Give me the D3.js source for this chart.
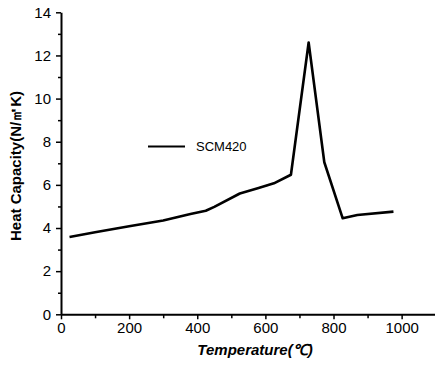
<!DOCTYPE html>
<html>
<head>
<meta charset="utf-8">
<script src="https://cdn.jsdelivr.net/npm/d3@7"></script>
<style>
  body { margin: 0; background: #fff; }
  svg text { font-family: "Liberation Sans", Arial, sans-serif; }
</style>
</head>
<body>
<script>
const w = 435;
const h = 368;

// data
const temps = [25, 100, 200, 300, 380, 425, 450, 525, 580, 625, 675, 727, 773, 827, 870, 976];
const capacity = [3.58, 3.8, 4.08, 4.35, 4.65, 4.8, 4.98, 5.6, 5.85, 6.07, 6.47, 12.6, 7.05, 4.45, 4.6, 4.76];
const xTicks = [0, 200, 400, 600, 800, 1000];
const yTicks = [0, 2, 4, 6, 8, 10, 12, 14];
const seriesName = "SCM420";

const data = temps.map((t, i) => ({ t: t, c: capacity[i] }));

const svg = d3.select("body")
  .append("svg")
  .attr("width", w)
  .attr("height", h);

const xScale = d3.scaleLinear()
  .domain([0, 1100])
  .range([61, 435.7]);

const yScale = d3.scaleLinear()
  .domain([0, 14])
  .range([314.3, 12.3]);

// minor ticks first
const xMinor = d3.axisBottom(xScale)
  .tickValues(d3.range(100, 1100, 200))
  .tickSize(4)
  .tickFormat("");
svg.append("g")
  .attr("transform", `translate(0, ${yScale(0)})`)
  .call(xMinor)
  .call(g => g.select(".domain").remove())
  .selectAll("line").attr("stroke-width", 1.5);

const yMinor = d3.axisLeft(yScale)
  .tickValues(d3.range(1, 14, 2))
  .tickSize(3)
  .tickFormat("");
svg.append("g")
  .attr("transform", `translate(${xScale(0)}, 0)`)
  .call(yMinor)
  .call(g => g.select(".domain").remove())
  .selectAll("line").attr("stroke-width", 1.5);

const xAxis = d3.axisBottom(xScale)
  .tickValues(xTicks)
  .tickFormat(d3.format("d"))
  .tickSize(5)
  .tickSizeOuter(0)
  .tickPadding(3);
const xAxisGroup = svg.append("g")
  .attr("transform", `translate(0, ${yScale(0)})`)
  .call(xAxis);
xAxisGroup.select(".domain").attr("stroke-width", 2);
xAxisGroup.selectAll(".tick line").attr("stroke-width", 1.5);
xAxisGroup.selectAll(".tick text").attr("font-size", 15).attr("fill", "#000");

const yAxis = d3.axisLeft(yScale)
  .tickValues(yTicks)
  .tickSize(5)
  .tickSizeOuter(0)
  .tickPadding(5);
const yAxisGroup = svg.append("g")
  .attr("transform", `translate(${xScale(0)}, 0)`)
  .call(yAxis);
yAxisGroup.select(".domain").attr("stroke-width", 2);
yAxisGroup.selectAll(".tick line").attr("stroke-width", 1.5);
yAxisGroup.selectAll(".tick text").attr("font-size", 15).attr("fill", "#000");

// the series
const line = d3.line()
  .x(d => xScale(d.t))
  .y(d => yScale(d.c));

svg.append("path")
  .datum(data)
  .attr("d", line)
  .attr("fill", "none")
  .attr("stroke", "#000")
  .attr("stroke-width", 2.6)
  .attr("stroke-linejoin", "round");

// legend
const legend = svg.append("g").attr("transform", "translate(148, 146.5)");
legend.append("line")
  .attr("x1", 0).attr("x2", 37)
  .attr("y1", 0).attr("y2", 0)
  .attr("stroke", "#000")
  .attr("stroke-width", 2.2);
legend.append("text")
  .attr("x", 48)
  .attr("y", 0)
  .attr("dy", "0.36em")
  .attr("font-size", 13)
  .text(seriesName);

// axis titles
svg.append("text")
  .attr("x", 255)
  .attr("y", 355)
  .attr("text-anchor", "middle")
  .attr("font-size", 15)
  .attr("font-weight", "bold")
  .attr("font-style", "italic")
  .text("Temperature(℃)");

svg.append("text")
  .attr("transform", "translate(21, 166) rotate(-90)")
  .attr("text-anchor", "middle")
  .attr("font-size", 15)
  .attr("font-weight", "bold")
  .text("Heat Capacity(N/㎡K)");
</script>
</body>
</html>
